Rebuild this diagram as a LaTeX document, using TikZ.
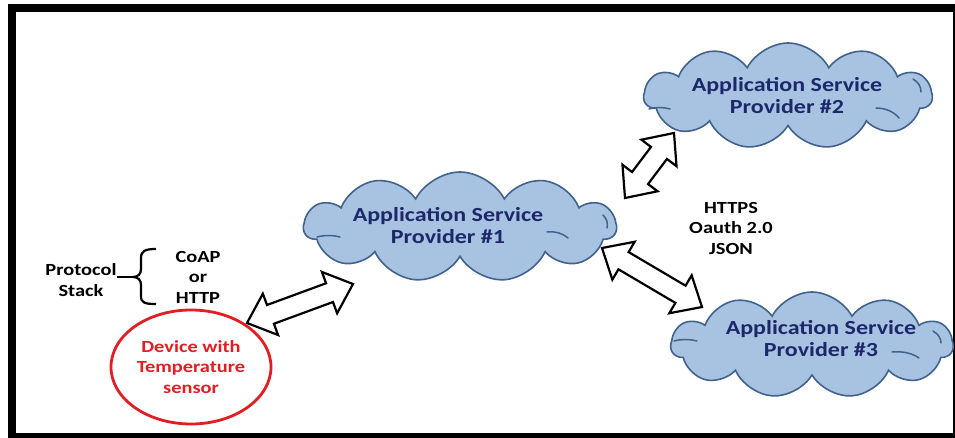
\documentclass[tikz,border=0pt]{standalone}
\usepackage{fontspec}
\setmainfont{Carlito}[FakeStretch=1.2]
\usetikzlibrary{shapes.symbols,shapes.geometric,calc}

\definecolor{cloudfill}{RGB}{168,194,226}
\definecolor{cloudline}{RGB}{66,98,142}
\definecolor{cloudtext}{RGB}{28,40,105}
\definecolor{devred}{RGB}{225,30,35}

\tikzset{
  aspcloud/.style={cloud, cloud puffs=11, cloud puff arc=125, cloud ignores aspect,
    draw=cloudline, fill=cloudfill, line width=1.6pt, inner sep=0pt},
  cloudcrease/.style={draw=cloudline, line width=1.5pt, line cap=round},
  asptext/.style={text=cloudtext, align=center, inner sep=0pt,
    font=\fontsize{20}{22}\selectfont\bfseries},
  lbl/.style={align=center, inner sep=0pt, font=\fontsize{17}{20.5}\selectfont\bfseries},
  devnode/.style={ellipse, draw=devred, line width=2.8pt, text=devred, align=center,
    inner sep=0pt, font=\fontsize{17}{20.5}\selectfont\bfseries},
  blockarr/.style={draw=black, fill=white, line width=2.2pt, line join=miter},
  bracepath/.style={draw=black, line width=2.2pt},
}

% white double-headed block arrow between two named points
\newcommand\blockarrow[2]{%
  \path ($(#1)!25pt!(#2)$) coordinate (ba-p) ($(#2)!25pt!(#1)$) coordinate (ba-q);
  \draw[blockarr] (#1)
    -- ($(ba-p)!22pt!90:(#2)$) -- ($(ba-p)!10pt!90:(#2)$)
    -- ($(ba-q)!10pt!-90:(#1)$) -- ($(ba-q)!22pt!-90:(#1)$)
    -- (#2)
    -- ($(ba-q)!22pt!90:(#1)$) -- ($(ba-q)!10pt!90:(#1)$)
    -- ($(ba-p)!10pt!-90:(#2)$) -- ($(ba-p)!22pt!-90:(#2)$)
    -- cycle;}

\begin{document}
\begin{tikzpicture}[x=1pt,y=-1pt]
  \useasboundingbox (0,0) rectangle (955,438);
  \fill[white] (0,0) rectangle (955,438);
  % outer frame
  \draw[line width=8pt] (11.5,8) rectangle (957,436.5);

  % service provider clouds
  \node[aspcloud, minimum width=312, minimum height=110] (asp1) at (460,227) {};
  \draw[cloudcrease] (317,237) .. controls (325,235) and (333,235) .. (340,237);
  \draw[cloudcrease] (547,232) .. controls (555,231) and (562,233) .. (568,238);
  \draw[cloudcrease] (603,215) .. controls (607,219) and (608,223) .. (607,228);
  \node[asptext] (t1) at (448,226) {Application Service\\Provider \#1};

  \node[aspcloud, minimum width=288, minimum height=106] (asp2) at (788,96) {};
  \draw[cloudcrease] (649,109) .. controls (656,107) and (663,107) .. (670,109);
  \draw[cloudcrease] (876,108) .. controls (886,108) and (894,112) .. (899,118);
  \draw[cloudcrease] (913,79) .. controls (918,82) and (921,86) .. (921,92);
  \node[asptext] (t2) at (787,96) {Application Service\\Provider \#2};

  \node[aspcloud, minimum width=282, minimum height=106] (asp3) at (812,345) {};
  \draw[cloudcrease] (674,341) .. controls (682,339) and (690,339) .. (697,341);
  \draw[cloudcrease] (892,352) .. controls (902,351) and (912,353) .. (919,358);
  \draw[cloudcrease] (933,331) .. controls (938,334) and (941,338) .. (941,343);
  \node[asptext] (t3) at (821,339) {Application Service\\Provider \#3};

  % device
  \node[devnode, minimum width=160, minimum height=114] (dev) at (191,367)
    {Device with\\Temperature\\sensor};

  % protocol stack labels
  \node[lbl] (proto) at (81,280) {Protocol\\Stack};
  \node[lbl] (stack) at (198,277) {CoAP\\or\\HTTP};
  \node[lbl] (sec) at (731,228) {HTTPS\\Oauth 2.0\\JSON};

  % brace grouping the protocol choices
  \coordinate (brtip) at (133,277);
  \draw[bracepath] (proto.east |- brtip) -- (brtip);
  \draw[bracepath] (156,249) .. controls (145,249) and (141,251) .. (141,258)
    -- (141,269) .. controls (141,274) and (138,277) .. (brtip)
    .. controls (138,277) and (141,280) .. (141,285)
    -- (141,296) .. controls (141,303) and (145,304) .. (156,304);

  % arrow end points
  \coordinate (a1) at (247,323);
  \coordinate (a2) at (353,284);
  \coordinate (b1) at (625,198);
  \coordinate (b2) at (674,133);
  \coordinate (c1) at (602,248);
  \coordinate (c2) at (702,307);

  \blockarrow{a1}{a2}
  \blockarrow{b1}{b2}
  \blockarrow{c1}{c2}
\end{tikzpicture}
\end{document}
